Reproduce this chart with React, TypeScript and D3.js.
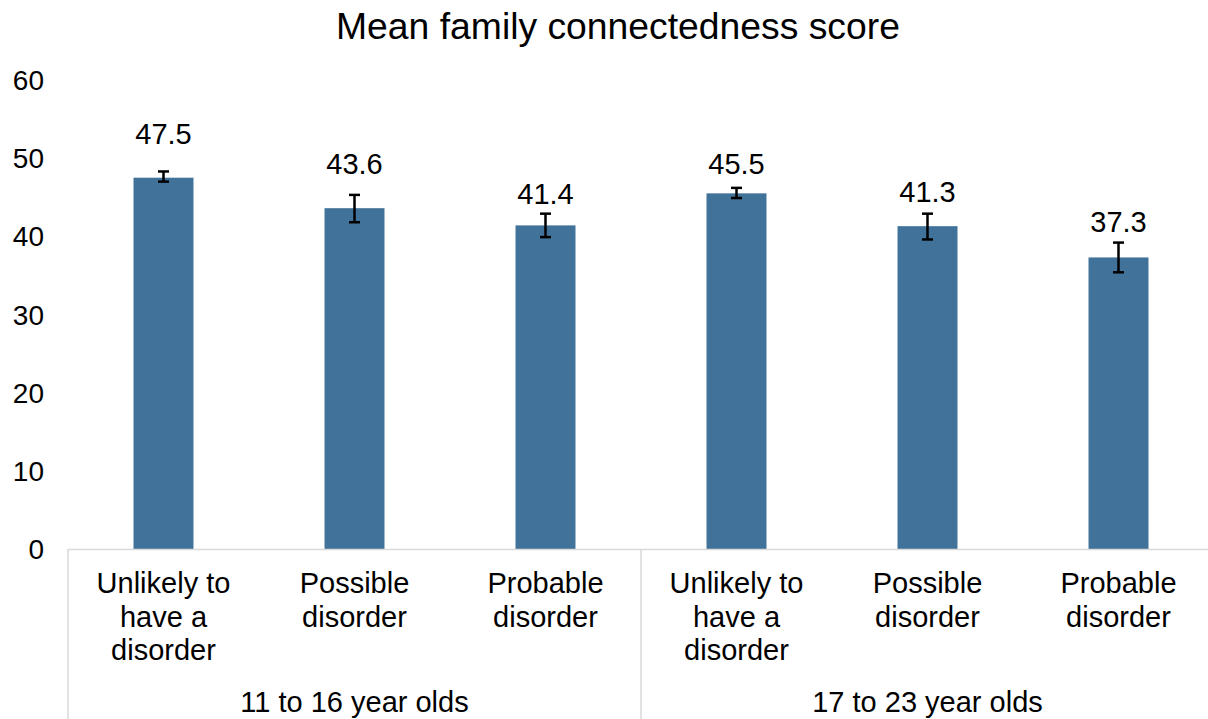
import React from "react";
import * as d3 from "d3";

const categories: string[][] = [
  ["Unlikely to", "have a", "disorder"],
  ["Possible", "disorder"],
  ["Probable", "disorder"],
  ["Unlikely to", "have a", "disorder"],
  ["Possible", "disorder"],
  ["Probable", "disorder"],
];
const groups = ["11 to 16 year olds", "17 to 23 year olds"];
const values = [47.5, 43.6, 41.4, 45.5, 41.3, 37.3];
const errLow = [47.0, 41.8, 39.9, 44.9, 39.6, 35.4];
const errHigh = [48.3, 45.3, 42.9, 46.2, 42.9, 39.2];
const yTicks = [0, 10, 20, 30, 40, 50, 60];
const title = "Mean family connectedness score";

export default function App() {
  const W = 1208;
  const H = 719;
  const x0 = 68;
  const step = 191;
  const x = d3
    .scaleBand<number>()
    .domain(d3.range(values.length))
    .range([x0, x0 + step * values.length])
    .paddingInner(0.686)
    .paddingOuter(0.343);
  const y = d3.scaleLinear().domain([0, 60]).range([549, 80]);
  const font = "'Liberation Sans', Arial, sans-serif";
  const labelGap = [44, 44, 31, 29, 34, 35];
  const axisColor = "#d9d9d9";
  const bw = x.bandwidth();
  const fs = 29;

  return (
    <svg width={W} height={H} style={{ position: "absolute", left: 0, top: 0 }} fontFamily={font}>
      <text x={618} y={39} textAnchor="middle" fontSize={37.3} fill="#000">
        {title}
      </text>
      {yTicks.map((t) => (
        <text key={t} x={44} y={y(t) + 10} textAnchor="end" fontSize={28} fill="#000">
          {t}
        </text>
      ))}
      {values.map((v, i) => {
        const bx = x(i)!;
        const cx = bx + bw / 2;
        return (
          <g key={i}>
            <rect x={bx} y={y(v)} width={bw} height={y(0) - y(v)} fill="#41729a" />
            <line x1={cx} x2={cx} y1={y(errHigh[i])} y2={y(errLow[i])} stroke="#000" strokeWidth={2.5} />
            <line x1={cx - 5.5} x2={cx + 5.5} y1={y(errHigh[i])} y2={y(errHigh[i])} stroke="#000" strokeWidth={2.5} />
            <line x1={cx - 5.5} x2={cx + 5.5} y1={y(errLow[i])} y2={y(errLow[i])} stroke="#000" strokeWidth={2.5} />
            <text x={cx} y={y(v) - labelGap[i] + 10} textAnchor="middle" fontSize={fs} fill="#000">
              {v.toFixed(1)}
            </text>
            {categories[i].map((line, j) => (
              <text key={j} x={cx} y={593 + j * 33.5} textAnchor="middle" fontSize={fs} fill="#000">
                {line}
              </text>
            ))}
          </g>
        );
      })}
      <line x1={x0} x2={x0 + step * 6} y1={y(0) + 0.5} y2={y(0) + 0.5} stroke={axisColor} strokeWidth={1.5} />
      {[0, 3, 6].map((k) => (
        <line key={k} x1={x0 + step * k} x2={x0 + step * k} y1={y(0)} y2={H} stroke={axisColor} strokeWidth={1.5} />
      ))}
      {groups.map((g, k) => (
        <text key={g} x={x0 + step * (k * 3 + 1.5)} y={712} textAnchor="middle" fontSize={fs} fill="#000">
          {g}
        </text>
      ))}
    </svg>
  );
}
